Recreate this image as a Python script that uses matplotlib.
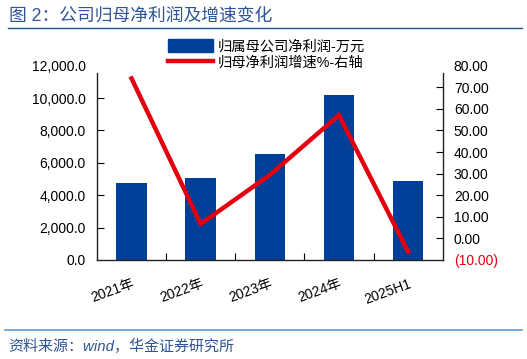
import matplotlib.pyplot as plt
from matplotlib.lines import Line2D
from matplotlib.patches import Patch

plt.rcParams['font.family'] = ['Liberation Sans', 'Noto Sans CJK SC', 'DejaVu Sans']

categories = ['2021年', '2022年', '2023年', '2024年', '2025H1']
profit = [4772, 5080, 6543, 10185, 4895]
growth = [74.1, 6.7, 29.4, 57.1, -6.2]
left_ticks = [0, 2000, 4000, 6000, 8000, 10000, 12000]
right_ticks = [-10, 0, 10, 20, 30, 40, 50, 60, 70, 80]

bar_color = '#003F98'
line_color = '#E3000F'
text_blue = '#2F5597'

fig = plt.figure(figsize=(5.27, 3.59), dpi=100)
ax = fig.add_axes([0.184, 0.2758, 0.656, 0.5412])
ax2 = ax.twinx()

x = list(range(len(categories)))
ax.bar(x, profit, width=0.44, color=bar_color, zorder=2)
ax2.plot(x, growth, color=line_color, lw=3.2, solid_joinstyle='miter', zorder=3)

ax.set_xlim(-0.5, len(categories) - 0.5)
ax.set_ylim(0, 12000)
ax2.set_ylim(-10, 80)

ax.set_yticks(left_ticks)
ax.set_yticklabels([f'{v:,.1f}' for v in left_ticks], fontsize=10)
ax2.set_yticks(right_ticks)
ax2.set_yticklabels([f'({abs(v):.2f})' if v < 0 else f'{v:.2f}' for v in right_ticks], fontsize=10)
ax2.get_yticklabels()[0].set_color(line_color)

ax.set_xticks(x)
ax.set_xticklabels(categories, rotation=20, fontsize=10, ha='right',
                   rotation_mode='anchor')
ax.tick_params(axis='x', which='major', length=0, pad=12)
ax.set_xticks([i + 0.5 for i in x[:-1]], minor=True)
ax.tick_params(axis='x', which='minor', direction='in', length=5, width=0.8)
ax.tick_params(axis='y', direction='in', length=5, width=0.8, pad=8)
ax2.tick_params(axis='y', direction='in', length=5, width=0.8, pad=8)

for a in (ax, ax2):
    a.spines['top'].set_visible(False)
    for s in a.spines.values():
        s.set_linewidth(1.0)
        s.set_color('#222222')
ax.spines['right'].set_visible(False)
ax2.spines['left'].set_visible(False)
ax2.spines['bottom'].set_visible(False)
ax.spines['left'].set_bounds(0, 11560)
ax2.spines['right'].set_bounds(-10, 76.7)
ax.yaxis.get_major_ticks()[-1].tick1line.set_visible(False)
ax2.yaxis.get_major_ticks()[-1].tick2line.set_visible(False)
ax2.yaxis.get_major_ticks()[0].tick2line.set_visible(False)
ax.yaxis.get_major_ticks()[0].tick1line.set_visible(False)

handles = [Patch(color=bar_color), Line2D([0], [0], color=line_color, lw=3.2)]
labels = ['归属母公司净利润-万元', '归母净利润增速%-右轴']
fig.legend(handles, labels, loc='upper left', bbox_to_anchor=(0.318, 0.89),
           frameon=False, fontsize=10.3, handlelength=3.2, handleheight=1.0,
           labelspacing=0.1, handletextpad=0.3, borderaxespad=0, borderpad=0)

fig.text(0.017, 0.955, '图 2：公司归母净利润及增速变化', fontsize=12.8, color=text_blue,
         va='center', ha='left')
fig.add_artist(Line2D([0.015, 0.99], [0.923, 0.923], color='#1F4E9A', lw=1.0))
fig.add_artist(Line2D([0.01, 0.99], [0.082, 0.082], color='#5B9BD5', lw=1.2))
fig.text(0.015, 0.035, '资料来源：wind，华金证券研究所', fontsize=10.8, color=text_blue,
         style='italic', va='center', ha='left')

fig.savefig('out.png', dpi=100)
